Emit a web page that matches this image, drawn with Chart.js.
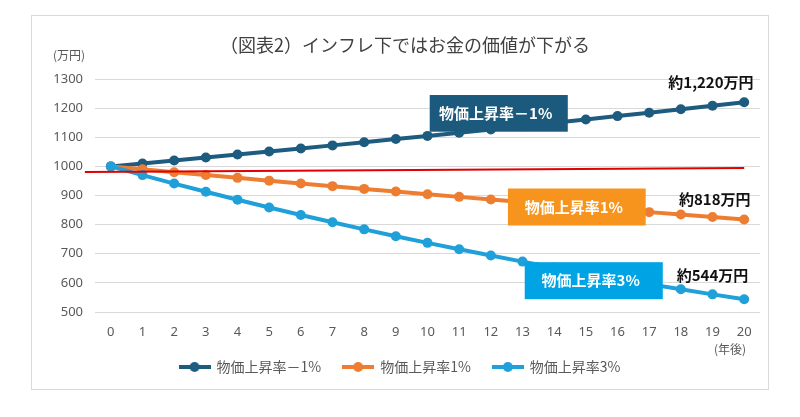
<!DOCTYPE html>
<html lang="ja">
<head>
<meta charset="utf-8">
<title>インフレ下ではお金の価値が下がる</title>
<script src="https://cdn.jsdelivr.net/npm/chart.js@4.4.1/dist/chart.umd.min.js"></script>
<style>
    html, body { margin: 0; padding: 0; background: #fff; }
    #wrap { width: 800px; height: 417px; }
</style>
</head>
<body>
<div id="wrap"><canvas id="inflationChart" width="800" height="417"></canvas></div>
<script>
// 年後 (x axis)
const years = ['0', '1', '2', '3', '4', '5', '6', '7', '8', '9', '10',
    '11', '12', '13', '14', '15', '16', '17', '18', '19', '20'];

// 1000万円 の実質価値（万円）
const priceMinus1 = [1000, 1010, 1020.1, 1030.3, 1040.6, 1051.0, 1061.5, 1072.1, 1082.9, 1093.7, 1104.6,
    1115.7, 1126.8, 1138.1, 1149.5, 1161.0, 1172.6, 1184.3, 1196.1, 1208.1, 1220.2];
const pricePlus1 = [1000, 990, 980.1, 970.3, 960.6, 951.0, 941.5, 932.1, 922.7, 913.5, 904.4,
    895.3, 886.4, 877.5, 868.7, 860.1, 851.5, 842.9, 834.5, 826.2, 817.9];
const pricePlus3 = [1000, 970, 940.9, 912.7, 885.3, 858.7, 833.0, 808.0, 783.7, 760.2, 737.4,
    715.3, 693.8, 673.0, 652.8, 633.3, 614.3, 595.8, 578.0, 560.6, 543.8];

// red reference line
const refLineYears = [-0.82, 20];
const refLineValues = [981, 994];

const seriesNames = ['物価上昇率－1%', '物価上昇率1%', '物価上昇率3%'];
const endLabels = ['約1,220万円', '約818万円', '約544万円'];

const Y_MIN = 500;
const Y_MAX = 1300;
const Y_STEP = 100;

const FONT_JP = '"Noto Sans CJK JP", "Noto Sans", sans-serif';
const FONT_NUM = '"Noto Sans", "Liberation Sans", sans-serif';
const colors = ['#1d5b7f', '#ed7d31', '#1fa0d8'];
const boxColors = ['#1b5a7d', '#f7941d', '#00a4e4'];

// callout placement (in data units of x2 / y)
const callouts = [
    { x0: 10.07, x1: 14.43, yTop: 1245, yBottom: 1119 },
    { x0: 12.54, x1: 16.89, yTop: 924, yBottom: 797 },
    { x0: 13.07, x1: 17.43, yTop: 671, yBottom: 544 }
];
const endLabelPos = [
    { x: 18.95, y: 1287 },
    { x: 19.07, y: 886 },
    { x: 19.0, y: 627 }
];

function makeLegendIcon(color) {
    const c = document.createElement('canvas');
    c.width = 32;
    c.height = 12;
    const g = c.getContext('2d');
    g.strokeStyle = color;
    g.lineWidth = 4;
    g.beginPath();
    g.moveTo(0, 6);
    g.lineTo(32, 6);
    g.stroke();
    g.fillStyle = color;
    g.beginPath();
    g.arc(16, 6, 5, 0, Math.PI * 2);
    g.fill();
    return c;
}
const legendIcons = colors.map(makeLegendIcon);

const decorPlugin = {
    id: 'decor',
    beforeDraw(chart) {
        const ctx = chart.ctx;
        ctx.save();
        ctx.fillStyle = '#fff';
        ctx.fillRect(0, 0, chart.width, chart.height);
        ctx.strokeStyle = '#d9d9d9';
        ctx.lineWidth = 1;
        ctx.strokeRect(31.5, 15.5, 737, 374);
        ctx.restore();
    },
    afterDatasetsDraw(chart) {
        const ctx = chart.ctx;
        const xs = chart.scales.x2;
        const ys = chart.scales.y;
        ctx.save();
        callouts.forEach((b, i) => {
            const left = xs.getPixelForValue(b.x0);
            const right = xs.getPixelForValue(b.x1);
            const top = ys.getPixelForValue(b.yTop);
            const bottom = ys.getPixelForValue(b.yBottom);
            ctx.fillStyle = boxColors[i];
            ctx.fillRect(left, top, right - left, bottom - top);
            ctx.fillStyle = '#fff';
            ctx.font = 'bold 15px ' + FONT_JP;
            ctx.textAlign = 'center';
            ctx.textBaseline = 'middle';
            ctx.fillText(seriesNames[i], (left + right) / 2 - 3, (top + bottom) / 2);
        });
        endLabels.forEach((t, i) => {
            ctx.fillStyle = '#111';
            ctx.font = 'bold 15px ' + FONT_JP;
            ctx.textAlign = 'center';
            ctx.textBaseline = 'middle';
            ctx.fillText(t, xs.getPixelForValue(endLabelPos[i].x), ys.getPixelForValue(endLabelPos[i].y));
        });
        ctx.restore();
    },
    afterDraw(chart) {
        const ctx = chart.ctx;
        ctx.save();
        ctx.fillStyle = '#404040';
        ctx.font = '18px ' + FONT_JP;
        ctx.textAlign = 'center';
        ctx.textBaseline = 'middle';
        ctx.fillText('（図表2）インフレ下ではお金の価値が下がる', 405, 45);

        ctx.fillStyle = '#595959';
        ctx.font = '12px ' + FONT_JP;
        ctx.fillText('(万円)', 69, 55);
        ctx.fillText('(年後)', 730, 349);
        ctx.restore();
    }
};

const ctx = document.getElementById('inflationChart').getContext('2d');

const inflationChart = new Chart(ctx, {
    type: 'line',
    data: {
        labels: years,
        datasets: [
            {
                label: 'ref',
                data: refLineYears.map((x, i) => ({ x: x, y: refLineValues[i] })),
                xAxisID: 'x2',
                borderColor: '#e00000',
                borderWidth: 2,
                pointRadius: 0,
                clip: false,
                order: 0
            },
            {
                label: seriesNames[0],
                data: priceMinus1,
                borderColor: colors[0],
                backgroundColor: colors[0],
                borderWidth: 4,
                pointRadius: 5,
                pointBorderWidth: 0,
                order: 3
            },
            {
                label: seriesNames[1],
                data: pricePlus1,
                borderColor: colors[1],
                backgroundColor: colors[1],
                borderWidth: 4,
                pointRadius: 5,
                pointBorderWidth: 0,
                order: 2
            },
            {
                label: seriesNames[2],
                data: pricePlus3,
                borderColor: colors[2],
                backgroundColor: colors[2],
                borderWidth: 4,
                pointRadius: 5,
                pointBorderWidth: 0,
                order: 1
            }
        ]
    },
    options: {
        responsive: false,
        animation: false,
        layout: {
            padding: { left: 40, right: 40, top: 79, bottom: 33 }
        },
        plugins: {
            title: { display: false },
            tooltip: { enabled: false },
            legend: {
                position: 'bottom',
                labels: {
                    usePointStyle: true,
                    pointStyleWidth: 30,
                    padding: 22,
                    color: '#595959',
                    font: { family: FONT_JP, size: 14 },
                    generateLabels: () => seriesNames.map((name, i) => ({
                        text: name,
                        pointStyle: legendIcons[i],
                        fillStyle: colors[i],
                        strokeStyle: colors[i],
                        lineWidth: 0,
                        hidden: false,
                        fontColor: '#595959',
                        datasetIndex: i + 1
                    }))
                }
            }
        },
        scales: {
            x: {
                offset: true,
                grid: { display: false, drawTicks: false },
                border: { display: false },
                ticks: {
                    color: '#595959',
                    padding: 12,
                    maxRotation: 0,
                    font: { family: FONT_NUM, size: 13 }
                },
                afterFit: (scale) => { scale.height = 26; }
            },
            x2: {
                type: 'linear',
                display: false,
                min: -0.5,
                max: 20.5
            },
            y: {
                min: Y_MIN,
                max: Y_MAX,
                grid: { color: '#d9d9d9', drawTicks: false },
                border: { display: false },
                ticks: {
                    stepSize: Y_STEP,
                    color: '#595959',
                    padding: 12,
                    font: { family: FONT_NUM, size: 13 },
                    callback: (v) => String(v)
                },
                afterFit: (scale) => { scale.width = 55; }
            }
        }
    },
    plugins: [decorPlugin]
});
</script>
</body>
</html>
